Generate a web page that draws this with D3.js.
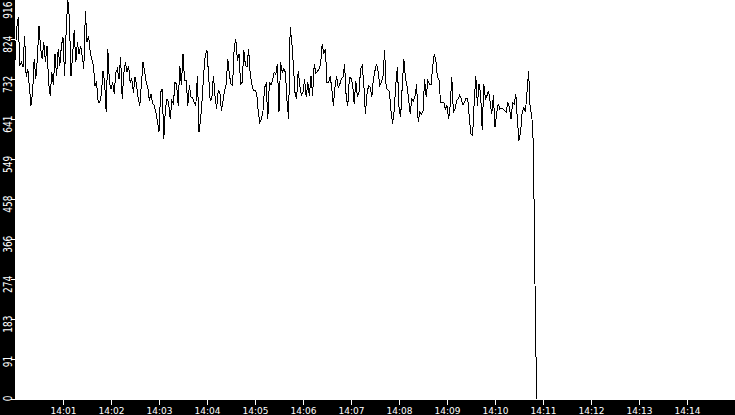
<!DOCTYPE html>
<html>
<head>
<meta charset="utf-8">
<script src="https://cdn.jsdelivr.net/npm/d3@7/dist/d3.min.js"></script>
<style>
  body { margin: 0; padding: 0; background: #000; }
  svg { display: block; }
</style>
</head>
<body>
<svg id="drawing_region"></svg>
<script>
// one sample every 2 seconds, starting at 14:00:00
const startTime = "14:00:00";
const stepSeconds = 2;

const block1 = [775, 847, 874, 763, 771, 760, 832, 737, 756, 714, 672, 702, 779, 733, 782, 855, 802, 779, 817, 771, 809, 725, 695, 748, 718, 790, 740, 802, 763, 809, 828, 740, 847, 916, 870, 740, 786, 844, 771, 817, 790, 809];
const block2 = [786, 756, 889, 817, 832, 794, 779, 763, 718, 725, 679, 679, 699, 752, 725, 657, 802, 725, 710, 725, 699, 748, 756, 733, 782, 687, 744, 771, 748, 763, 725, 733, 702, 737, 718, 687, 672, 721, 771, 752, 725];
const block3 = [714, 683, 699, 676, 673, 657, 637, 611, 702, 710, 595, 664, 687, 679, 641, 683, 676, 725, 721, 672, 763, 718, 790, 729, 729, 672, 718, 691, 689, 679, 672, 740, 611, 641, 687, 748, 790, 798, 740, 683, 687];
const block4 = [740, 695, 664, 706, 704, 660, 683, 706, 721, 779, 742, 721, 718, 805, 824, 775, 790, 721, 725, 798, 765, 760, 802, 744, 721, 706, 706, 702, 660, 634, 641, 660, 714, 721, 641, 725, 719, 731, 748, 744, 767];
const block5 = [657, 771, 748, 756, 748, 683, 641, 851, 817, 763, 702, 687, 752, 718, 695, 702, 733, 691, 725, 693, 740, 695, 767, 747, 750, 756, 767, 813, 790, 802, 725, 725, 740, 710, 672, 714, 740, 714, 721, 733, 737];
const block6 = [767, 691, 672, 737, 734, 721, 676, 729, 691, 702, 756, 763, 721, 653, 699, 718, 714, 691, 733, 752, 767, 748, 718, 725, 740, 798, 711, 708, 704, 660, 630, 660, 721, 760, 668, 645, 714, 779, 737, 716, 687];
const block7 = [653, 687, 683, 693, 721, 634, 657, 653, 660, 733, 691, 729, 721, 719, 760, 790, 777, 737, 731, 678, 678, 679, 664, 672, 641, 673, 737, 657, 663, 683, 687, 696, 686, 673, 681, 689, 687, 641, 607, 603, 679];
const block8 = [740, 672, 721, 699, 615, 721, 687, 695, 706, 678, 653, 695, 622, 653, 676, 664, 666, 664, 660, 657, 679, 668, 641, 678, 676, 699, 637, 592, 611, 657, 668, 657, 702, 752, 664, 649, 580, 263, 0];

const xDomain = ["14:00", "14:15"];
const xTickLabels = ["14:01", "14:02", "14:03", "14:04", "14:05", "14:06", "14:07", "14:08", "14:09", "14:10", "14:11", "14:12", "14:13", "14:14"];
const yDomain = [0, 916];
const yTickLabels = [0, 91, 183, 274, 366, 458, 549, 641, 732, 824, 916];

const parseMin = d3.timeParse("%H:%M");
const parseSec = d3.timeParse("%H:%M:%S");

const t0 = parseSec(startTime);
const values = [].concat(block1, block2, block3, block4, block5, block6, block7, block8);
const data = values.map((v, i) => ({ time: d3.timeSecond.offset(t0, i * stepSeconds), value: v }));

class LineChart {

    constructor( config, data ) {
        this.config = {
            parent: config.parent,
            width: config.width || 735,
            height: config.height || 415,
            margin: config.margin || {top:0, right:0, bottom:15, left:15}
        }
        this.data = data;
        this.init();
    }

    init() {
        let self = this;

        self.svg = d3.select( self.config.parent )
            .attr('width', self.config.width)
            .attr('height', self.config.height);

        self.inner_width = self.config.width - self.config.margin.left - self.config.margin.right;
        self.inner_height = self.config.height - self.config.margin.top - self.config.margin.bottom;

        self.xscale = d3.scaleTime()
            .domain( xDomain.map(parseMin) )
            .range( [self.config.margin.left, self.config.margin.left + self.inner_width] );

        self.yscale = d3.scaleLinear()
            .domain( yDomain )
            .range( [self.inner_height - 1, -1] );

        self.line = d3.line()
            .x( d => self.xscale(d.time) )
            .y( d => self.yscale(d.value) );
    }

    update() {
        let self = this;
        self.render();
    }

    render() {
        let self = this;

        // black frame, white plotting area
        self.svg.append('rect')
            .attr('width', self.config.width)
            .attr('height', self.config.height)
            .attr('fill', '#000');

        self.svg.append('rect')
            .attr('x', self.config.margin.left)
            .attr('y', self.config.margin.top)
            .attr('width', self.inner_width)
            .attr('height', self.inner_height)
            .attr('fill', '#fff');

        self.svg.append('path')
            .attr('d', self.line(self.data))
            .attr('fill', 'none')
            .attr('stroke', '#000')
            .attr('stroke-width', 1)
            .attr('shape-rendering', 'crispEdges');

        // x axis
        const xaxis = d3.axisBottom( self.xscale )
            .tickValues( xTickLabels.map(parseMin) )
            .tickFormat( d3.timeFormat("%H:%M") )
            .tickSize(5);

        const xg = self.svg.append('g')
            .attr('transform', `translate(0, ${self.inner_height})`)
            .call( xaxis );
        xg.select('.domain').remove();
        xg.selectAll('line').attr('stroke', '#fff').attr('shape-rendering', 'crispEdges');
        xg.selectAll('text')
            .attr('fill', '#fff')
            .style('font-family', '"DejaVu Sans"')
            .style('font-size', '9px');

        // y axis, labels turned and stretched
        const yaxis = d3.axisLeft( self.yscale )
            .tickValues( yTickLabels )
            .tickFormat( d3.format('d') )
            .tickSize(4);

        const yg = self.svg.append('g')
            .attr('transform', `translate(${self.config.margin.left}, 0)`)
            .call( yaxis );
        yg.select('.domain').remove();
        yg.selectAll('line').attr('stroke', '#fff').attr('shape-rendering', 'crispEdges');
        yg.selectAll('text')
            .attr('x', null)
            .attr('dy', null)
            .attr('fill', '#fff')
            .attr('text-anchor', 'end')
            .style('font-family', '"DejaVu Sans"')
            .style('font-size', '9px')
            .attr('transform', d => {
                const off = Math.max(-4, 1 - self.yscale(d));
                return `translate(-3.3, ${off}) rotate(-90) scale(1, 1.45)`;
            });
    }
}

const lineChart = new LineChart( { parent: '#drawing_region', width: 735, height: 415,
    margin: {top:0, right:0, bottom:15, left:15} }, data );
lineChart.update();
</script>
</body>
</html>
